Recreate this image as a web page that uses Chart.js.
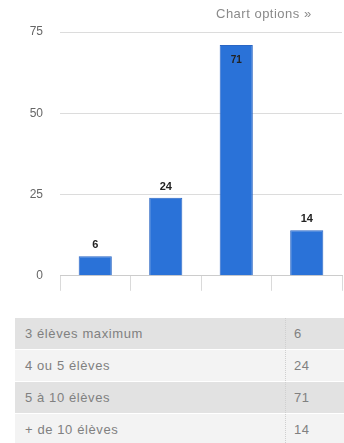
<!DOCTYPE html>
<html>
<head>
<meta charset="utf-8">
<script src="https://cdn.jsdelivr.net/npm/chart.js@4.4.1/dist/chart.umd.min.js"></script>
<style>
  html, body { margin: 0; padding: 0; background: #fff; }
  body { width: 344px; height: 443px; position: relative; overflow: hidden; font-family: "Liberation Sans", Arial, sans-serif; }
  #wrap { position: absolute; left: 0; top: 0; width: 344px; height: 300px; }
  #opts { position: absolute; left: 216px; top: 6px; font-size: 13px; letter-spacing: 0.5px; color: #8a8a8a; }
  table { position: absolute; left: 15px; top: 318px; width: 329px; border-collapse: collapse; font-size: 13px; letter-spacing: 0.6px; color: #808080; }
  td { height: 31px; padding: 0 0 0 10px; border-bottom: 1px solid #fff; }
  tr:nth-child(odd) td { background: #e2e2e2; }
  tr:nth-child(even) td { background: #f3f3f3; }
  td.v { width: 50px; padding-left: 8px; border-left: 1px dotted #cfcfcf; }
</style>
</head>
<body>
<div id="wrap"><canvas id="c" width="344" height="300"></canvas></div>
<div id="opts">Chart options »</div>
<table id="tbl"></table>
<script>
// Answer categories and how many replies each one got
const categories = ["3 élèves maximum", "4 ou 5 élèves", "5 à 10 élèves", "+ de 10 élèves"];
const counts = [6, 24, 71, 14];
const yTicks = [0, 25, 50, 75];

// Summary table under the chart
const tbl = document.getElementById('tbl');
categories.forEach((name, i) => {
  const tr = document.createElement('tr');
  const a = document.createElement('td'); a.textContent = name;
  const b = document.createElement('td'); b.className = 'v'; b.textContent = counts[i];
  tr.appendChild(a); tr.appendChild(b); tbl.appendChild(tr);
});

// Value labels above each bar (inside the top when the bar is tall)
const valueLabels = {
  id: 'valueLabels',
  afterDatasetsDraw(chart) {
    const ctx = chart.ctx;
    const meta = chart.getDatasetMeta(0);
    ctx.save();
    ctx.textAlign = 'center';
    ctx.fillStyle = '#222';
    meta.data.forEach((bar, i) => {
      const inside = bar.y - chart.chartArea.top < 16;
      if (inside) {
        ctx.font = 'bold 10px "Liberation Sans", Arial, sans-serif';
        ctx.textBaseline = 'middle';
        ctx.fillText(String(counts[i]), bar.x, bar.y + 15);
      } else {
        ctx.font = 'bold 11px "Liberation Sans", Arial, sans-serif';
        ctx.textBaseline = 'middle';
        ctx.fillText(String(counts[i]), bar.x, bar.y - 11);
      }
    });
    ctx.restore();
  }
};

new Chart(document.getElementById('c'), {
  type: 'bar',
  data: {
    labels: categories,
    datasets: [{
      data: counts,
      backgroundColor: '#2a72d8',
      borderColor: '#2a66c4',
      borderWidth: 1,
      categoryPercentage: 1,
      barPercentage: 0.47
    }]
  },
  options: {
    responsive: false,
    animation: false,
    layout: { padding: { top: 32, right: 2, left: 0, bottom: 0 } },
    plugins: { legend: { display: false }, tooltip: { enabled: false } },
    scales: {
      x: {
        grid: { drawOnChartArea: false, drawTicks: true, tickLength: 15, color: '#dadada' },
        border: { color: '#cccccc' },
        ticks: { display: false },
        afterFit(s) { s.height = 16; }
      },
      y: {
        min: 0, max: 75,
        afterBuildTicks(s) { s.ticks = yTicks.map(v => ({ value: v })); },
        grid: { color: '#dcdcdc', drawTicks: false },
        border: { display: false },
        ticks: { padding: 17, color: '#666', font: { size: 12, family: '"Liberation Sans", Arial, sans-serif' } },
        afterFit(s) { s.width = 60; }
      }
    }
  },
  plugins: [valueLabels]
});
</script>
</body>
</html>
